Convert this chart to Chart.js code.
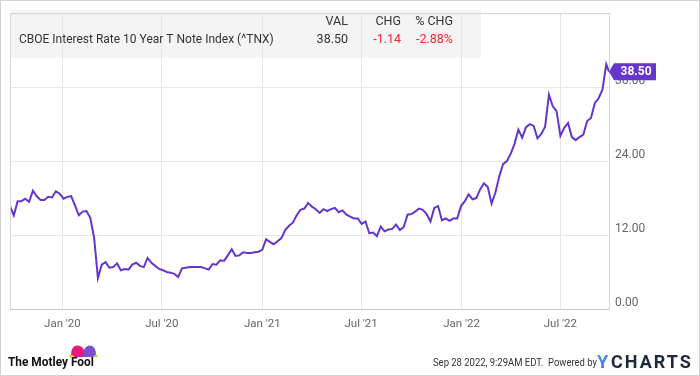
<!DOCTYPE html>
<html>
<head>
<meta charset="utf-8">
<script src="https://cdn.jsdelivr.net/npm/chart.js@4"></script>
<style>
  body { margin: 0; background: #fff; }
  #wrap { width: 700px; height: 376px; }
</style>
</head>
<body>
<div id="wrap"><canvas id="tnx" width="700" height="376"></canvas></div>
<script>
// weekly closes (x10), last point is the intraday value of Sep 28 2022
var weekDates = [
  '2019-09-27','2019-10-04','2019-10-11','2019-10-18','2019-10-25','2019-11-01','2019-11-08','2019-11-15','2019-11-22','2019-11-29',
  '2019-12-06','2019-12-13','2019-12-20','2019-12-27',
  '2020-01-03','2020-01-10','2020-01-17','2020-01-24','2020-01-31','2020-02-07','2020-02-14','2020-02-21','2020-02-28','2020-03-06',
  '2020-03-13','2020-03-20','2020-03-27','2020-04-03','2020-04-10','2020-04-17','2020-04-24','2020-05-01','2020-05-08','2020-05-15',
  '2020-05-22','2020-05-29','2020-06-05','2020-06-12','2020-06-19','2020-06-26','2020-07-03','2020-07-10','2020-07-17','2020-07-24',
  '2020-07-31','2020-08-07','2020-08-14','2020-08-21','2020-08-28','2020-09-04','2020-09-11','2020-09-18','2020-09-25','2020-10-02',
  '2020-10-09','2020-10-16','2020-10-23','2020-10-30','2020-11-06','2020-11-13','2020-11-20','2020-11-27','2020-12-04','2020-12-11',
  '2020-12-18','2020-12-25',
  '2021-01-01','2021-01-08','2021-01-15','2021-01-22','2021-01-29','2021-02-05','2021-02-12','2021-02-19','2021-02-26','2021-03-05',
  '2021-03-12','2021-03-19','2021-03-26','2021-04-02','2021-04-09','2021-04-16','2021-04-23','2021-04-30','2021-05-07','2021-05-14',
  '2021-05-21','2021-05-28','2021-06-04','2021-06-11','2021-06-18','2021-06-25','2021-07-02','2021-07-09','2021-07-16','2021-07-23',
  '2021-07-30','2021-08-06','2021-08-13','2021-08-20','2021-08-27','2021-09-03','2021-09-10','2021-09-17','2021-09-24','2021-10-01',
  '2021-10-08','2021-10-15','2021-10-22','2021-10-29','2021-11-05','2021-11-12','2021-11-19','2021-11-26','2021-12-03','2021-12-10',
  '2021-12-17','2021-12-24','2021-12-31',
  '2022-01-07','2022-01-14','2022-01-21','2022-01-28','2022-02-04','2022-02-11','2022-02-18','2022-02-25','2022-03-04','2022-03-11',
  '2022-03-18','2022-03-25','2022-04-01','2022-04-08','2022-04-15','2022-04-22','2022-04-29','2022-05-06','2022-05-13','2022-05-20',
  '2022-05-27','2022-06-03','2022-06-10','2022-06-17','2022-06-24','2022-07-01','2022-07-08','2022-07-15','2022-07-22','2022-07-29',
  '2022-08-05','2022-08-12','2022-08-19','2022-08-26','2022-09-02','2022-09-09','2022-09-16','2022-09-23','2022-09-28'
];
var tnxValues = [
  16.7,15.2,17.5,17.5,17.9,17.4,19.2,18.3,17.7,17.7,
  18.2,18.1,19.1,18.7,
  17.9,18.2,18.3,16.8,15.2,15.8,15.9,14.8,11.6,5.0,
  7.2,7.6,6.7,6.8,7.4,6.3,6.5,6.4,7.2,7.5,
  7.0,6.8,8.3,7.5,7.0,6.5,6.3,6.0,5.9,5.7,
  5.2,6.6,6.7,6.8,6.8,6.8,6.8,6.6,6.4,7.3,
  7.2,7.9,7.8,8.7,9.7,8.6,8.7,9.2,9.1,9.1,
  9.2,9.3,
  9.6,11.3,10.9,10.5,11.0,11.5,12.8,13.5,14.0,15.2,
  16.1,16.3,17.2,16.6,16.2,15.6,16.2,15.9,16.2,16.4,
  15.7,16.0,15.3,15.0,14.7,14.7,13.8,14.2,12.3,12.4,
  11.8,13.4,12.6,12.9,13.0,13.7,12.8,13.3,15.3,15.4,
  15.8,16.3,16.1,15.4,14.2,16.4,16.7,14.4,14.7,14.3,
  14.7,14.7,16.7,
  17.5,18.6,17.8,18.0,19.4,20.4,19.8,17.1,18.9,21.5,
  23.5,24.0,25.2,26.8,29.1,27.8,29.5,30.0,29.7,27.7,
  28.4,29.6,34.8,32.9,32.1,28.1,29.4,30.2,27.9,27.4,
  27.9,28.3,30.5,31.0,33.4,34.2,35.6,39.7,38.5
];
var tickDates = ['2020-01-01','2020-07-01','2021-01-01','2021-07-01','2022-01-01','2022-07-01'];
var tickLabels = ["Jan '20","Jul '20","Jan '21","Jul '21","Jan '22","Jul '22"];
var yTicks = [0, 12, 24, 36, 48];

var seriesName = 'CBOE Interest Rate 10 Year T Note Index (^TNX)';
var lastVal = '38.50', lastChg = '-1.14', lastPct = '-2.88%';
var stampText = 'Sep 28 2022, 9:29AM EDT.';

var purple = '#6536cc';
var gridCol = '#e6e6e6';

Chart.defaults.font.family = 'Roboto';

// text squeezed sideways a little, the source uses a narrow face
function narrowText(ctx, txt, x, y, sx) {
  ctx.save();
  ctx.translate(x, y);
  ctx.scale(sx, 1);
  ctx.fillText(txt, 0, 0);
  ctx.restore();
}

// table background, frame, labels, footer
var decorations = {
  id: 'decorations',
  beforeDraw(chart) {
    var ctx = chart.ctx;
    ctx.save();
    ctx.fillStyle = '#fff';
    ctx.fillRect(0, 0, chart.width, chart.height);
    ctx.fillStyle = '#f4f4f4';
    ctx.fillRect(11, 10, 470, 48);
    ctx.restore();
  },
  afterDraw(chart) {
    var ctx = chart.ctx, a = chart.chartArea;
    ctx.save();
    // plot frame
    ctx.strokeStyle = '#d6d6d6';
    ctx.lineWidth = 1;
    ctx.beginPath();
    ctx.moveTo(a.left + 0.5, a.bottom);
    ctx.lineTo(a.left + 0.5, a.top + 0.5);
    ctx.lineTo(a.right, a.top + 0.5);
    ctx.stroke();

    // header table
    ctx.textBaseline = 'middle';
    ctx.font = '12.5px Roboto';
    ctx.fillStyle = '#333';
    ctx.textAlign = 'left';
    narrowText(ctx, seriesName, 19, 40, 0.96);
    ctx.textAlign = 'right';
    ctx.fillText('VAL', 348, 22);
    ctx.fillText('CHG', 401, 22);
    ctx.fillText('% CHG', 453, 22);
    ctx.fillText(lastVal, 348, 40);
    ctx.fillStyle = '#f0262b';
    ctx.fillText(lastChg, 401, 40);
    ctx.fillText(lastPct, 453, 40);

    // last value flag
    var yPix = chart.scales.y.getPixelForValue(tnxValues[tnxValues.length - 1]);
    var x0 = a.right;
    ctx.fillStyle = purple;
    ctx.beginPath();
    ctx.moveTo(x0, yPix);
    ctx.lineTo(x0 + 5, yPix - 8.5);
    ctx.lineTo(x0 + 47, yPix - 8.5);
    ctx.lineTo(x0 + 47, yPix + 8.5);
    ctx.lineTo(x0 + 5, yPix + 8.5);
    ctx.closePath();
    ctx.fill();
    ctx.fillStyle = '#fff';
    ctx.font = 'bold 12px Roboto';
    ctx.textAlign = 'center';
    ctx.fillText(lastVal, x0 + 27, yPix + 0.5);

    // footer
    ctx.textAlign = 'left';
    ctx.fillStyle = '#111';
    ctx.font = 'bold 12.5px Roboto';
    narrowText(ctx, 'The Motley Fool', 8, 363, 0.95);
    // jester hat
    ctx.fillStyle = '#e8197d';
    ctx.beginPath();
    ctx.moveTo(71, 355);
    ctx.quadraticCurveTo(71, 346, 77, 345.5);
    ctx.quadraticCurveTo(82, 345.5, 84, 350);
    ctx.lineTo(84, 357);
    ctx.lineTo(75, 357);
    ctx.closePath();
    ctx.fill();
    ctx.fillStyle = '#7a4fd0';
    ctx.beginPath();
    ctx.moveTo(84, 350);
    ctx.quadraticCurveTo(86, 345.5, 90, 345.5);
    ctx.quadraticCurveTo(96, 346, 96, 355);
    ctx.lineTo(93, 357);
    ctx.lineTo(84, 357);
    ctx.closePath();
    ctx.fill();
    ctx.fillStyle = '#f3c200';
    ctx.beginPath(); ctx.arc(71, 356, 1.6, 0, Math.PI * 2); ctx.fill();
    ctx.beginPath(); ctx.arc(96, 356, 1.6, 0, Math.PI * 2); ctx.fill();

    ctx.fillStyle = '#333';
    ctx.font = '11px Roboto';
    narrowText(ctx, stampText, 433, 363, 0.86);
    narrowText(ctx, 'Powered by', 548, 363, 0.86);
    ctx.font = 'bold 18px Roboto';
    ctx.letterSpacing = '2px';
    var g = ctx.createLinearGradient(598, 354, 610, 370);
    g.addColorStop(0, '#3aa0e8');
    g.addColorStop(1, '#5b5bd6');
    ctx.fillStyle = g;
    ctx.fillText('Y', 597, 363);
    ctx.fillStyle = '#1e2a3a';
    ctx.fillText('CHARTS', 611, 363);
    ctx.letterSpacing = '0px';

    // outer border
    ctx.strokeStyle = '#d2d2d2';
    ctx.strokeRect(0.5, 0.5, chart.width - 1, chart.height - 1);
    ctx.restore();
  }
};

var points = weekDates.map(function (d, i) {
  return { x: Date.parse(d), y: tnxValues[i] };
});

new Chart(document.getElementById('tnx'), {
  type: 'line',
  data: {
    datasets: [{
      data: points,
      borderColor: purple,
      borderWidth: 2,
      pointRadius: 0,
      tension: 0,
      fill: false
    }]
  },
  options: {
    responsive: false,
    animation: false,
    layout: { padding: { left: 10, top: 10, right: 0, bottom: 0 } },
    plugins: { legend: { display: false }, tooltip: { enabled: false } },
    scales: {
      x: {
        type: 'linear',
        min: Date.parse(weekDates[0]),
        max: Date.parse(weekDates[weekDates.length - 1]),
        afterBuildTicks: function (axis) {
          axis.ticks = tickDates.map(function (d) { return { value: Date.parse(d) }; });
        },
        afterFit: function (axis) { axis.height = 67; },
        grid: { color: gridCol, drawTicks: false },
        border: { color: '#c8c8c8' },
        ticks: {
          autoSkip: false,
          maxRotation: 0,
          padding: 8,
          color: '#666',
          font: { size: 11.5 },
          callback: function (v, i) { return tickLabels[i]; }
        }
      },
      y: {
        position: 'right',
        min: 0,
        max: 48,
        afterBuildTicks: function (axis) {
          axis.ticks = yTicks.map(function (v) { return { value: v }; });
        },
        afterFit: function (axis) { axis.width = 91; },
        grid: { color: gridCol, drawTicks: false },
        border: { color: '#d6d6d6' },
        ticks: {
          padding: 6,
          labelOffset: -6,
          color: '#666',
          font: { size: 12 },
          callback: function (v) { return v === 48 ? '' : v.toFixed(2); }
        }
      }
    }
  },
  plugins: [decorations]
});
</script>
</body>
</html>
